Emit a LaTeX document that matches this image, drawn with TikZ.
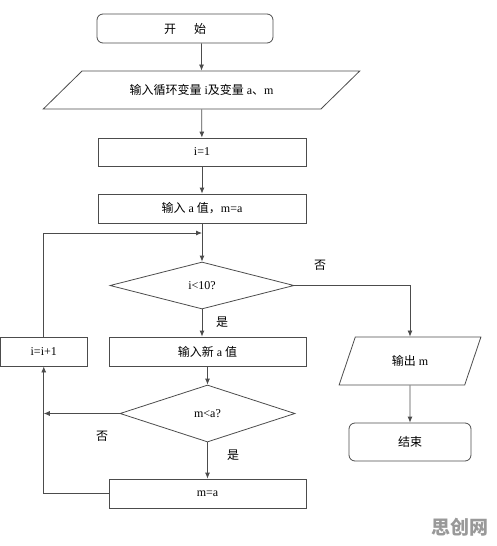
\documentclass[tikz,border=0pt]{standalone}
\usepackage{fontspec}
\setmainfont{Liberation Serif}
\newfontfamily\cjk{Noto Sans CJK SC}
\newcommand{\zh}[1]{{\cjk #1}}
\usetikzlibrary{shapes.geometric,arrows.meta}

\begin{document}
\begin{tikzpicture}[x=1pt,y=-1pt,
    font=\fontsize{12pt}{14pt}\selectfont,
    line width=0.8pt,
    every node/.style={draw=black!70,inner sep=0pt},
    proc/.style={rectangle,minimum height=29pt},
    term/.style={rectangle,rounded corners=6pt},
    io/.style={trapezium,trapezium stretches=true},
    test/.style={diamond,aspect=4},
    tag/.style={draw=none},
    arr/.style={draw=black!70,-{Latex[length=6pt,width=5pt]}}]
    \useasboundingbox (0,0) rectangle (496,546);

    % start and input
    \node[term,minimum width=176pt,minimum height=29pt] (start) at (185,28.5) {\zh{开\hspace{1.5em}始}};
    \node[io,trapezium left angle=25.7,trapezium right angle=154.3,
          minimum width=317pt,minimum height=38pt] (input) at (201.5,90)
          {\zh{输入循环变量} i\zh{及变量} a\zh{、}m};
    \node[proc,minimum width=208pt,minimum height=28pt] (init) at (202,152) {i=1};
    \node[proc,minimum width=208pt] (seta) at (202,208.5) {\zh{输入} a \zh{值，}m=a};

    % loop test
    \coordinate (loop) at (202,233);
    \node[test,minimum width=184pt,minimum height=47pt] (cond1) at (202,285.5) {i<10?};
    \node[proc,minimum width=197pt] (newa) at (207.5,351.5) {\zh{输入新} a \zh{值}};
    \node[proc,minimum width=86.5pt] (inc) at (43.75,351.5) {i=i+1};
    \node[test,minimum width=175pt,minimum height=57pt] (cond2) at (207.5,413.5) {m<a?};
    \node[proc,minimum width=197pt] (mset) at (207.5,493.5) {m=a};

    % output and end
    \node[io,trapezium left angle=64,trapezium right angle=116,
          minimum width=142pt,minimum height=48pt] (output) at (410,361) {\zh{输出} m};
    \node[term,minimum width=122pt,minimum height=38pt] (finish) at (410,442) {\zh{结束}};

    % labels
    \node[tag] (no1) at (320,265) {\zh{否}};
    \node[tag] (yes1) at (222,322) {\zh{是}};
    \node[tag] (no2) at (102,436) {\zh{否}};
    \node[tag] (yes2) at (233,455) {\zh{是}};
    \node[tag,text=black!40,font=\fontsize{19pt}{21pt}\selectfont\cjk\bfseries] (mark) at (460,527) {思创网};

    % connectors
    \draw[arr] (start.south -| input.center) -- (input);
    \draw[arr] (input) -- (init);
    \draw[arr] (init) -- (seta);
    \draw[arr] (seta) -- (cond1);
    \draw[arr] (inc) |- (loop);
    \draw[arr] (cond1.south) -- (cond1.south |- newa.north);
    \draw[arr] (cond1.east) -| (output.north);
    \draw[arr] (output) -- (finish);
    \draw[arr] (newa) -- (cond2);
    \draw[arr] (cond2.west) -- (cond2.west -| inc.south);
    \draw[arr] (cond2) -- (mset);
    \draw[arr] (mset.west) -| (inc.south);
\end{tikzpicture}
\end{document}
